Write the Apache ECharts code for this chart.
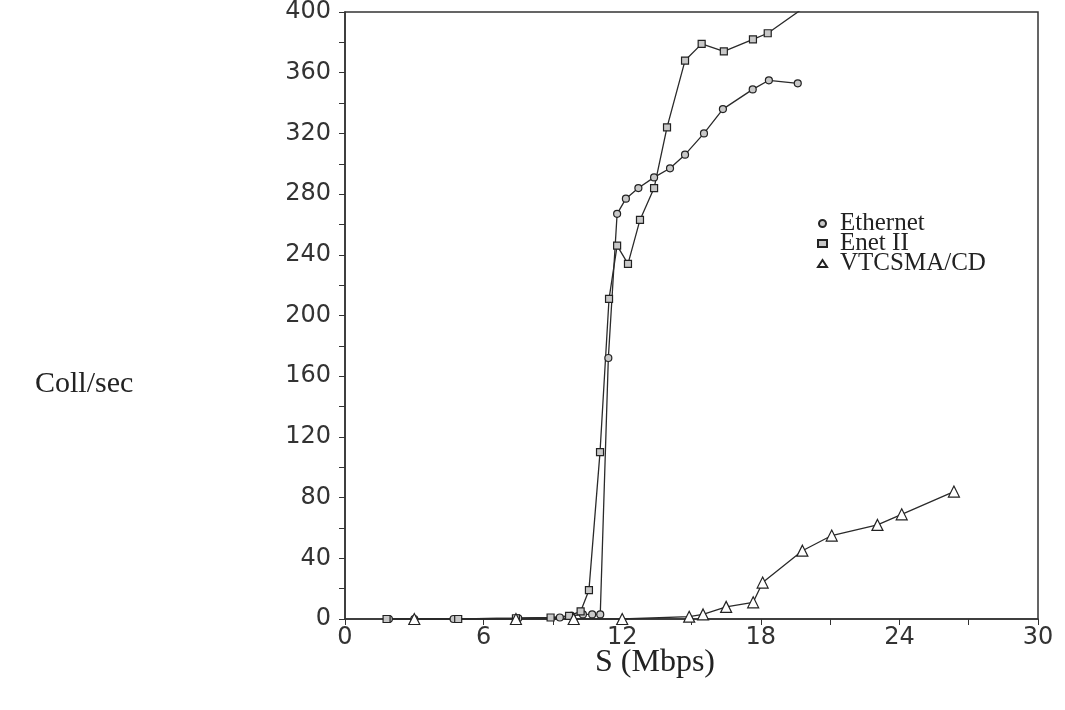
<!DOCTYPE html>
<html>
<head>
<meta charset="utf-8">
<script src="https://cdn.jsdelivr.net/npm/echarts@6/dist/echarts.min.js"></script>
<style>html,body{margin:0;padding:0;background:#fff}#c{width:1065px;height:710px}</style>
</head>
<body>
<div id="c"></div>
<script>
const seriesNames = ['Ethernet', 'Enet II', 'VTCSMA/CD'];
const xTicks = [0, 6, 12, 18, 24, 30];
const yTicks = [0, 40, 80, 120, 160, 200, 240, 280, 320, 360, 400];

const ethernet = [
  [1.9, 0], [3.0, 0], [4.7, 0], [7.5, 0.5], [9.3, 1], [9.8, 2], [10.3, 3], [10.7, 3], [11.05, 3],
  [11.4, 172], [11.78, 267], [12.16, 277], [12.7, 284], [13.38, 291], [14.07, 297],
  [14.72, 306], [15.54, 320], [16.36, 336], [17.65, 349], [18.35, 355], [19.6, 353]
];
const enet2 = [
  [1.8, 0], [4.9, 0], [7.4, 0.5], [8.9, 1], [9.7, 2], [10.2, 5], [10.56, 19], [11.04, 110],
  [11.43, 211], [11.78, 246], [12.25, 234], [12.77, 263], [13.38, 284], [13.94, 324],
  [14.72, 368], [15.44, 379], [16.4, 374], [17.66, 382], [18.3, 386], [21.0, 415]
];
const vtcsma = [
  [3.0, 0], [7.4, 0], [9.9, 0], [12.0, 0], [14.9, 1.5], [15.5, 3], [16.5, 8], [17.67, 11],
  [18.08, 24], [19.8, 45], [21.07, 55], [23.05, 62], [24.1, 69], [26.36, 84]
];

const chart = echarts.init(document.getElementById('c'), null, {renderer: 'canvas'});
const lineCol = '#2a2a2a';
const tickFont = {fontFamily: 'DejaVu Sans', fontSize: 24, color: '#333'};
const serif = 'Liberation Serif';

function mk(name, data, symbol, size, fill) {
  return {
    name: name, type: 'line', data: data, symbol: symbol, symbolSize: size,
    showAllSymbol: true, clip: true, animation: false,
    lineStyle: {color: lineCol, width: 1.3},
    itemStyle: {color: fill, borderColor: '#222', borderWidth: 1.2}
  };
}

chart.setOption({
  animation: false,
  backgroundColor: '#fff',
  grid: {left: 345, right: 27, top: 12, bottom: 91, show: true, borderColor: '#333', borderWidth: 1.5, backgroundColor: 'transparent'},
  legend: {
    orient: 'vertical', left: 812, top: 206, itemGap: -5, itemWidth: 9, itemHeight: 7,
    data: [
      {name: seriesNames[0], icon: 'circle'},
      {name: seriesNames[1], icon: 'rect'},
      {name: seriesNames[2], icon: 'triangle'}
    ],
    textStyle: {fontFamily: serif, fontSize: 25, color: '#222', lineHeight: 20, padding: [0, 0, 0, 8]}
  },
  xAxis: {
    type: 'value', min: 0, max: 30, interval: 6,
    axisLine: {show: true, lineStyle: {color: '#333', width: 1.5}},
    axisTick: {show: true, inside: false, length: 6, lineStyle: {color: '#333'}},
    minorTick: {show: true, splitNumber: 2, length: 6, lineStyle: {color: '#333'}},
    splitLine: {show: false},
    axisLabel: Object.assign({margin: 7, formatter: v => xTicks.includes(v) ? String(v) : ''}, tickFont)
  },
  yAxis: {
    type: 'value', min: 0, max: 400, interval: 40,
    axisLine: {show: true, lineStyle: {color: '#333', width: 1.5}},
    axisTick: {show: true, inside: false, length: 6, lineStyle: {color: '#333'}},
    minorTick: {show: true, splitNumber: 2, length: 6, lineStyle: {color: '#333'}},
    splitLine: {show: false},
    axisLabel: Object.assign({margin: 14, formatter: v => yTicks.includes(v) ? String(v) : ''}, tickFont)
  },
  graphic: [
    {type: 'text', left: 35, top: 369, style: {text: 'Coll/sec', font: '30px "Liberation Serif"', fill: '#222'}},
    {type: 'text', left: 595, top: 647, style: {text: 'S (Mbps)', font: '32px "Liberation Serif"', fill: '#222'}}
  ],
  series: [
    mk(seriesNames[0], ethernet, 'circle', 7, '#c8c8c8'),
    mk(seriesNames[1], enet2, 'rect', 7, '#c8c8c8'),
    mk(seriesNames[2], vtcsma, 'triangle', 11, '#fff')
  ]
});
</script>
</body>
</html>
